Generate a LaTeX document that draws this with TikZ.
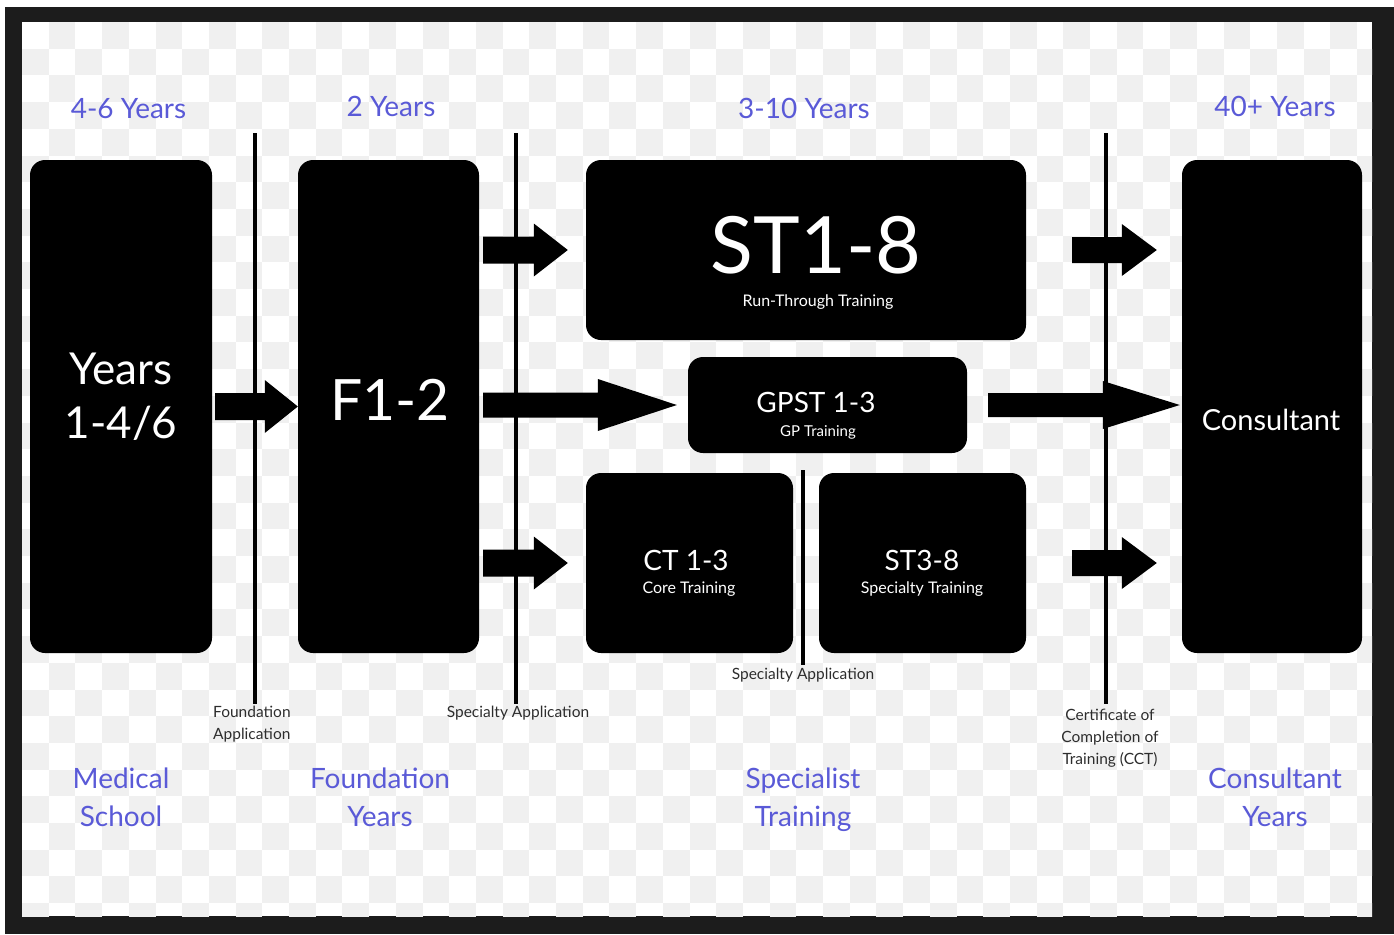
\documentclass[tikz,border=0pt]{standalone}
\usepackage{fontspec}
\setmainfont{Lato}
\usetikzlibrary{calc}
\definecolor{lab}{RGB}{90,90,215}
\definecolor{framec}{RGB}{28,28,28}
\definecolor{chk}{RGB}{240,240,240}
\definecolor{notec}{RGB}{45,45,45}
% block arrow: from, gap1, to, gap2, half shaft, head length, half head
\newcommand\blockarrow[7]{%
  \fill let \p1=(#1), \p2=(#3) in
    (\x1+#2,\y1+#5) -- (\x2-#4-#6,\y1+#5) -- (\x2-#4-#6,\y1+#7) -- (\x2-#4,\y1)
    -- (\x2-#4-#6,\y1-#7) -- (\x2-#4-#6,\y1-#5) -- (\x1+#2,\y1-#5) -- cycle;}
\begin{document}
\begin{tikzpicture}[x=1pt,y=-1pt,
  box/.style={fill=black, draw=none, rounded corners=15pt, inner sep=0pt},
  vline/.style={line width=4.5pt},
  toplab/.style={text=lab, font=\fontsize{28}{30}\selectfont, anchor=base, inner sep=0pt},
  botlab/.style={text=lab, font=\fontsize{28}{38}\selectfont, align=center, inner sep=0pt},
  notelab/.style={text=notec, font=\fontsize{15.5}{22}\selectfont, inner sep=0pt},
  wtext/.style={text=white, inner sep=0pt, anchor=base}]
\useasboundingbox (0,0) rectangle (1394,934);
% background and frame
\fill[white] (0,0) rectangle (1394,934);
\fill[framec] (5,7) rectangle (1394,934);
\fill[white] (22,22) rectangle (1372,916);
\begin{scope}
  \clip (22,22) rectangle (1372,916);
  \foreach \i in {0,...,50}{\foreach \j in {0,...,33}{%
    \ifodd\numexpr\i+\j\relax
      \fill[chk] ({22+26.7*\i},{22+26.7*\j}) rectangle +(26.7,26.7);
    \fi}}
\end{scope}
% boxes
\node[box, minimum width=182pt, minimum height=493pt] (med) at (121,406.5) {};
\node[box, minimum width=181pt, minimum height=493pt] (f1) at (388.5,406.5) {};
\node[box, minimum width=440pt, minimum height=180pt] (st) at (806,250) {};
\node[box, minimum width=279pt, minimum height=96pt] (gp) at (827.5,405) {};
\node[box, minimum width=207pt, minimum height=180pt] (ct) at (689.5,563) {};
\node[box, minimum width=207pt, minimum height=180pt] (st38) at (922.5,563) {};
\node[box, minimum width=180pt, minimum height=493pt] (cons) at (1272,406.5) {};
% vertical separator lines
\coordinate (v1t) at (255,133); \coordinate (v1b) at (255,704);
\coordinate (v2t) at (516,133); \coordinate (v2b) at (516,704);
\coordinate (v3t) at (803,470); \coordinate (v3b) at (803,665);
\coordinate (v4t) at (1106,133); \coordinate (v4b) at (1106,704);
\draw[vline] (v1t) -- (v1b);
\draw[vline] (v2t) -- (v2b);
\draw[vline] (v3t) -- (v3b);
\draw[vline] (v4t) -- (v4b);
% block arrows
\blockarrow{med.east}{3pt}{f1.west}{0pt}{13.5pt}{33pt}{26.5pt}
\blockarrow{f1.east |- st.west}{4pt}{st.west}{18pt}{13.5pt}{34pt}{26.5pt}
\blockarrow{f1.east |- gp.west}{4pt}{gp.west}{11pt}{12.5pt}{79pt}{26pt}
\blockarrow{f1.east |- ct.west}{4pt}{ct.west}{18pt}{13.5pt}{34pt}{26.5pt}
\blockarrow{st.east}{46pt}{cons.west}{25pt}{13pt}{35pt}{26pt}
\blockarrow{gp.east}{21pt}{cons.west}{2pt}{12pt}{77pt}{24pt}
\blockarrow{st38.east}{46pt}{cons.west}{25pt}{13pt}{35pt}{26pt}
% texts in boxes
\node[text=white, inner sep=0pt, align=center, font=\fontsize{44}{54}\selectfont] (medt) at (121,397) {Years\\1-4/6};
\node[wtext, font=\fontsize{57}{60}\selectfont] (f1t) at (390,420) {F1-2};
\node[wtext, font=\fontsize{79}{80}\selectfont] (stt) at (816,273) {ST1-8};
\node[wtext, font=\fontsize{16}{18}\selectfont] (sts) at (818,306) {Run-Through Training};
\node[wtext, font=\fontsize{28}{30}\selectfont] (gpt) at (816,412) {GPST 1-3};
\node[wtext, font=\fontsize{15}{18}\selectfont] (gps) at (818,436) {GP Training};
\node[wtext, font=\fontsize{28}{30}\selectfont] (ctt) at (686,570) {CT 1-3};
\node[wtext, font=\fontsize{16}{18}\selectfont] (cts) at (689,593) {Core Training};
\node[wtext, font=\fontsize{28}{30}\selectfont] (st38t) at (922,570) {ST3-8};
\node[wtext, font=\fontsize{16}{18}\selectfont] (st38s) at (922,593) {Specialty Training};
\node[wtext, font=\fontsize{29}{30}\selectfont] (const) at (1271,430) {Consultant};
% top duration labels
\node[toplab] (y1) at (128.5,118) {4-6 Years};
\node[toplab] (y2) at (391,116) {2 Years};
\node[toplab] (y3) at (804,118) {3-10 Years};
\node[toplab] (y4) at (1275,116) {40+ Years};
% bottom stage labels
\node[botlab] (b1) at (121,797) {Medical\\School};
\node[botlab] (b2) at (380,797) {Foundation\\Years};
\node[botlab] (b3) at (803,800) {Specialist\\Training};
\node[botlab] (b4) at (1275,797) {Consultant\\Years};
% application notes
\node[notelab, align=left, anchor=north west] (n1) at (213,706) {Foundation\\Application};
\node[notelab, anchor=north] (n2) at (518,706) {Specialty Application};
\node[notelab, anchor=north] (n3) at (803,668) {Specialty Application};
\node[notelab, align=center, anchor=north] (n4) at (1110,709) {Certificate of\\Completion of\\Training (CCT)};
\end{tikzpicture}
\end{document}
